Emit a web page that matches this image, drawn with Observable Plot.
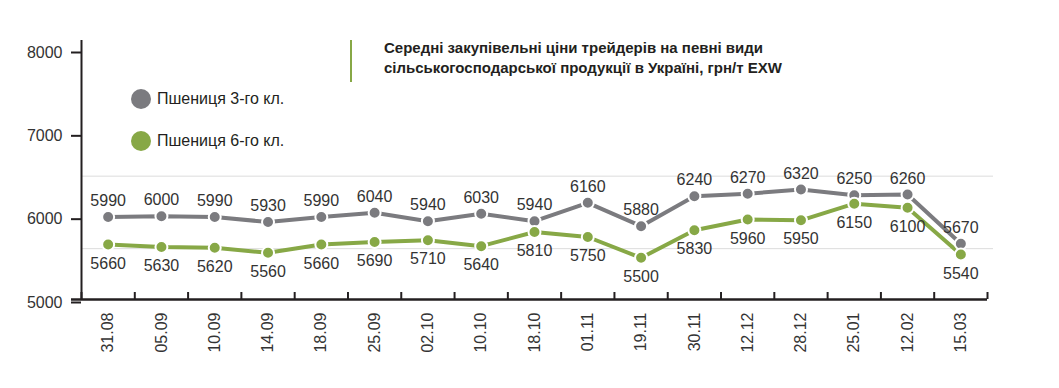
<!DOCTYPE html>
<html><head><meta charset="utf-8">
<script src="https://cdn.jsdelivr.net/npm/d3@7"></script>
<script src="https://cdn.jsdelivr.net/npm/@observablehq/plot@0.6"></script>
<style>
body{margin:0;background:#fff;font-family:"Liberation Sans",Arial,sans-serif;}
#wrap{position:relative;width:1059px;height:388px;overflow:hidden;}
#wrap svg{position:absolute;left:0;top:0;}
.title{position:absolute;left:384px;top:38px;font-size:15px;font-weight:bold;line-height:20px;color:#231f20;white-space:nowrap;}
.bar{position:absolute;left:350px;top:40px;width:2px;height:42px;}
.leg{position:absolute;left:131px;height:20px;display:flex;align-items:center;font-size:16px;color:#231f20;white-space:nowrap;}
.leg span.sw{display:inline-block;width:20px;height:20px;border-radius:50%;margin-right:6px;}
</style></head><body><div id="wrap"></div>
<script>
const dates = ["31.08","05.09","10.09","14.09","18.09","25.09","02.10","10.10","18.10","01.11","19.11","30.11","12.12","28.12","25.01","12.02","15.03"];
const wheat3 = [5990,6000,5990,5930,5990,6040,5940,6030,5940,6160,5880,6240,6270,6320,6250,6260,5670];
const wheat6 = [5660,5630,5620,5560,5660,5690,5710,5640,5810,5750,5500,5830,5960,5950,6150,6100,5540];
const seriesNames = ["Пшениця 3-го кл.","Пшениця 6-го кл."];
const colors = ["#7b7b7f","#87a846"];
const yTicks = [5000,6000,7000,8000];
const gridValues = [5610,6480];
const yDomain = [5000,8108];
const titleLines = ["Середні закупівельні ціни трейдерів на певні види","сільськогосподарської продукції в Україні, грн/т EXW"];

const idx = d3.range(dates.length);
const rows3 = idx.map(i => ({i, v: wheat3[i]}));
const rows6 = idx.map(i => ({i, v: wheat6[i]}));
const bounds = d3.range(dates.length + 1).map(i => i - 0.5);
const ink = "#231f20";
const txt = "#333";

const plot = Plot.plot({
  width: 1059, height: 388,
  marginLeft: 81, marginRight: 72, marginTop: 40, marginBottom: 89,
  style: {fontFamily: "Liberation Sans, Arial, sans-serif", fontSize: "16px", background: "white", color: txt},
  x: {type: "linear", domain: [-0.5, dates.length - 0.5], label: null},
  y: {domain: yDomain, label: null},
  marks: [
    Plot.ruleY(gridValues, {stroke: "#dcdcdc", strokeWidth: 1, insetRight: -6}),
    Plot.axisY(yTicks, {tickSize: 10, tickPadding: 9, stroke: ink, strokeWidth: 2, fill: txt, fontSize: 16, dy: 3, tickFormat: d => String(d), label: null}),
    Plot.axisX(idx, {tickSize: 0, tickPadding: 13, tickRotate: -90, tickFormat: i => dates[i], fill: txt, fontSize: 16, label: null}),
    Plot.ruleX(bounds, {x: d => d, y1: yDomain[0], y2: yDomain[0], insetTop: -7, stroke: ink, strokeWidth: 2}),
    Plot.ruleX([bounds[0]], {y1: yDomain[0], y2: yDomain[1], stroke: ink, strokeWidth: 2}),
    Plot.ruleY([yDomain[0]], {stroke: ink, strokeWidth: 2.5, insetLeft: -10}),
    Plot.line(rows3, {x: "i", y: "v", stroke: colors[0], strokeWidth: 4}),
    Plot.line(rows6, {x: "i", y: "v", stroke: colors[1], strokeWidth: 4}),
    Plot.dot(rows3, {x: "i", y: "v", fill: colors[0], r: 6, stroke: "white", strokeWidth: 2}),
    Plot.dot(rows6, {x: "i", y: "v", fill: colors[1], r: 6, stroke: "white", strokeWidth: 2}),
    Plot.text(rows3, {x: "i", y: "v", text: d => String(d.v), dy: -16, fill: txt, fontSize: 16}),
    Plot.text(rows6, {x: "i", y: "v", text: d => String(d.v), dy: 19, fill: txt, fontSize: 16})
  ]
});

const wrap = document.getElementById("wrap");
wrap.appendChild(plot);
const bar = document.createElement("div");
bar.className = "bar"; bar.style.background = colors[1];
wrap.appendChild(bar);
const t = document.createElement("div");
t.className = "title";
t.innerHTML = titleLines.join("<br>");
wrap.appendChild(t);
seriesNames.forEach((name, k) => {
  const d = document.createElement("div");
  d.className = "leg";
  d.style.top = (89 + k * 42) + "px";
  const sw = document.createElement("span");
  sw.className = "sw"; sw.style.background = colors[k];
  d.appendChild(sw);
  d.appendChild(document.createTextNode(name));
  wrap.appendChild(d);
});
</script></body></html>
